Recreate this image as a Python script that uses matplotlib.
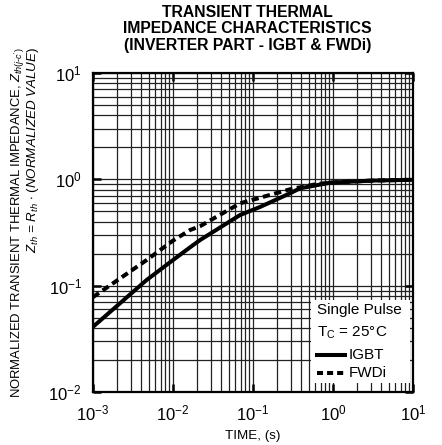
import numpy as np
import matplotlib
matplotlib.use('Agg')
import matplotlib.pyplot as plt
from matplotlib.lines import Line2D
from matplotlib.patches import Rectangle

plt.rcParams['font.family'] = ['Liberation Sans', 'DejaVu Sans']
plt.rcParams['mathtext.fontset'] = 'custom'
plt.rcParams['mathtext.rm'] = 'Liberation Sans'
plt.rcParams['mathtext.it'] = 'Liberation Sans:italic'
plt.rcParams['mathtext.bf'] = 'Liberation Sans:bold'
plt.rcParams['axes.unicode_minus'] = False

igbt_t = [1e-3, 0.00468, 0.01, 0.0163, 0.0219, 0.0688, 0.123, 0.29, 0.387, 0.917, 3.16, 10]
igbt_z = [0.041, 0.113, 0.174, 0.229, 0.269, 0.461, 0.55, 0.738, 0.822, 0.929, 0.973, 0.989]

fwdi_t = [1e-3, 0.00468, 0.01, 0.0163, 0.0219, 0.0688, 0.29, 0.63, 1.0, 3.16, 10]
fwdi_z = [0.078, 0.174, 0.265, 0.333, 0.363, 0.594, 0.805, 0.902, 0.933, 0.973, 0.989]

x_ticks = [1e-3, 1e-2, 1e-1, 1e0, 1e1]
y_ticks = [1e-2, 1e-1, 1e0, 1e1]

fig = plt.figure(figsize=(4.42, 4.45), dpi=100)
ax = fig.add_axes([0.2104, 0.1191, 0.724, 0.717])

ax.set_xscale('log')
ax.set_yscale('log')
ax.set_xlim(1e-3, 1e1)
ax.set_ylim(1e-2, 1e1)

ax.grid(True, which='both', color='#222222', linewidth=0.9)
ax.set_axisbelow(True)

ax.plot(igbt_t, igbt_z, color='black', linewidth=2.9, solid_capstyle='butt', zorder=3)
ax.plot(fwdi_t, fwdi_z, color='black', linewidth=2.9, dashes=(1.8, 1.1), zorder=3)

ax.set_xticks(x_ticks)
ax.set_yticks(y_ticks)
ax.tick_params(which='major', direction='in', length=6, width=1.8, labelsize=12, pad=8,
               top=True, right=True)
ax.tick_params(which='minor', length=0)
for sp in ax.spines.values():
    sp.set_linewidth(1.6)

# Legendenkasten (weiss, ohne Rahmen)
fs_leg = 11
ax.add_patch(Rectangle((0.681, 0.028), 0.31, 0.26, transform=ax.transAxes,
                       facecolor='white', edgecolor='none', zorder=4))
ax.text(0.70, 0.257, 'Single Pulse', transform=ax.transAxes, fontsize=fs_leg,
        va='center', ha='left', zorder=5)
ax.text(0.70, 0.185, r'T$_\mathrm{C}$ = 25°C', transform=ax.transAxes, fontsize=fs_leg,
        va='center', ha='left', zorder=5)
ax.add_line(Line2D([0.70, 0.7875], [0.116, 0.116], transform=ax.transAxes,
                   color='black', linewidth=2.9, zorder=5))
ax.text(0.80, 0.116, 'IGBT', transform=ax.transAxes, fontsize=fs_leg,
        va='center', ha='left', zorder=5)
ax.add_line(Line2D([0.70, 0.7875], [0.06, 0.06], transform=ax.transAxes,
                   color='black', linewidth=2.9, dashes=(1.5, 1.0), zorder=5))
ax.text(0.80, 0.06, 'FWDi', transform=ax.transAxes, fontsize=fs_leg,
        va='center', ha='left', zorder=5)

ax.set_xlabel('TIME, (s)', fontsize=9.6, labelpad=5)

fig.text(0.040, 0.895, r"NORMALIZED TRANSIENT THERMAL IMPEDANCE, $Z_{th(j\text{-}c')}$",
         rotation=90, fontsize=9.4, ha='center', va='top')
fig.text(0.074, 0.895, r"$Z_{th}$ = $R_{th}$ $\bullet$ $\it{(NORMALIZED\ VALUE)}$",
         rotation=90, fontsize=9.6, ha='center', va='top', style='italic')

fig.text(0.56, 0.935, 'TRANSIENT THERMAL\nIMPEDANCE CHARACTERISTICS\n(INVERTER PART - IGBT & FWDi)',
         fontsize=11.3, fontweight='bold', ha='center', va='center', linespacing=1.1)

fig.savefig('out.png', dpi=100)
